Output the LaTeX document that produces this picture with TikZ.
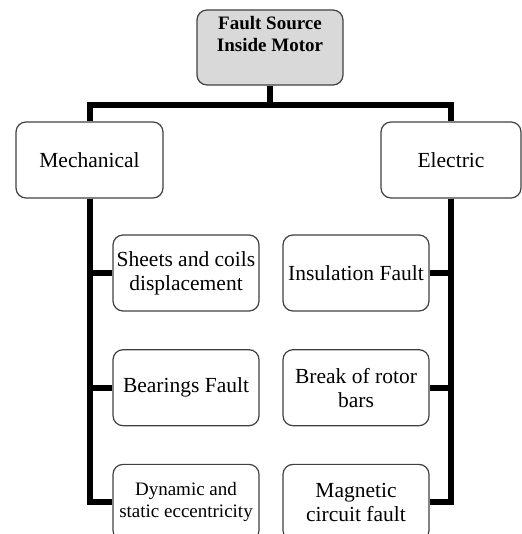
\documentclass[tikz,border=0pt]{standalone}
\usepackage{fontspec}
\setmainfont{Liberation Serif}
\usetikzlibrary{positioning}

\begin{document}
\begin{tikzpicture}[
        x=1pt, y=1pt,
        node distance=37.5pt,
        box/.style={rectangle, draw=black!75, line width=1.2pt, rounded corners=10pt, minimum width=146pt, minimum height=76pt, align=center, inner sep=2pt, font=\fontsize{21.5}{24}\selectfont},
        link/.style={line width=6pt, line join=miter}
    ]
        \useasboundingbox (0,0) rectangle (521,534);

        % Root
        \node[box, fill=black!15, minimum height=75pt] (fault) at (270,486.5) {};
        \node[below=3pt of fault.north, align=center, font=\bfseries\fontsize{19}{22}\selectfont] (faulttext) {Fault Source\\Inside Motor};
        \coordinate[below=19pt of fault.south] (split);

        % Groups
        \node[box, minimum width=147pt] (mech) at (89.5,374) {Mechanical};
        \node[box, minimum width=140pt] (elec) at (451,374) {Electric};

        % Mechanical side
        \node[box] (sheets) at (186,261) {Sheets and coils\\displacement};
        \node[box, below=of sheets] (bearing) {Bearings Fault};
        \node[box, below=of bearing, font=\fontsize{19}{22}\selectfont] (eccen) {Dynamic and\\static eccentricity};

        % Electric side
        \node[box] (insul) at (356,261) {Insulation Fault};
        \node[box, below=of insul] (rotor) {Break of rotor\\bars};
        \node[box, below=of rotor] (magnet) {Magnetic\\circuit fault};

        % Links
        \draw[link] (fault.south) -- (split);
        \draw[link] (mech.north) |- (split) -| (elec.north);
        \draw[link] (mech.south) |- (sheets.west);
        \draw[link] (mech.south) |- (bearing.west);
        \draw[link] (mech.south) |- (eccen.west);
        \draw[link] (elec.south) |- (insul.east);
        \draw[link] (elec.south) |- (rotor.east);
        \draw[link] (elec.south) |- (magnet.east);
    \end{tikzpicture}
\end{document}
